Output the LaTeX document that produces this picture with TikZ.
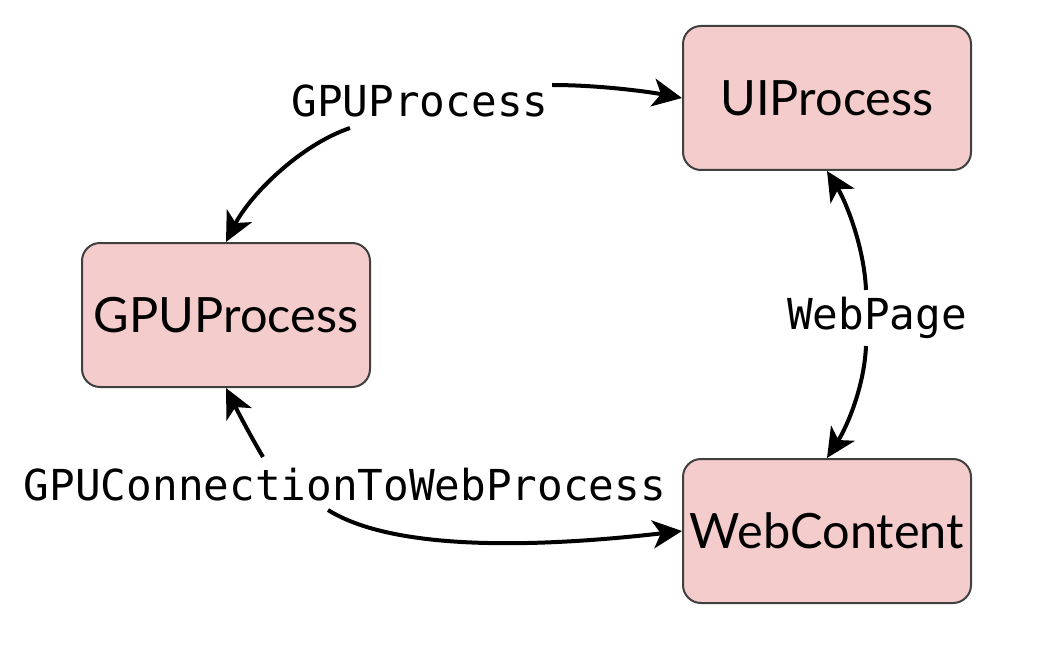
\documentclass[tikz,border=0pt]{standalone}
\usepackage{fontspec}
\setmainfont{Lato}
\newfontfamily\labelfont{DejaVu Sans Mono}
\usetikzlibrary{arrows.meta}
\definecolor{boxpink}{HTML}{F4CCCC}
\definecolor{boxline}{HTML}{404040}
\begin{document}
\begin{tikzpicture}[x=0.75pt,y=-0.75pt,
  procbox/.style={rectangle, rounded corners=13.5pt, minimum width=216pt, minimum height=108pt,
    inner sep=0pt, fill=boxpink, draw=boxline, line width=1.5pt,
    font=\fontsize{36.5}{40}\selectfont},
  lbl/.style={inner sep=0pt, font=\labelfont\fontsize{32}{36}\selectfont},
  conn/.style={line width=3pt, -{Stealth[length=22pt,width=21pt,inset=6pt]}}]
\fill[white] (0,0) rectangle (1048,652);
\node[procbox] (ui) at (827,98) {UIProcess};
\node[procbox] (gpu) at (226,315) {GPUProcess};
\node[procbox] (web) at (827,531) {WebContent};
\node[lbl] (l1) at (420,101) {GPUProcess};
\node[lbl] (l2) at (877,318) {WebPage};
\node[lbl] (l3) at (345,485) {GPUConnectionToWebProcess};
\coordinate (a1) at (552,85);
\coordinate (b1) at (350,128);
\coordinate (a2) at (866,290);
\coordinate (b2) at (866,346);
\coordinate (a3) at (263,457);
\coordinate (b3) at (328,510);
\draw[conn] (a1) .. controls (600,85) and (650,92) .. (ui.west);
\draw[conn] (b1) .. controls (300,145) and (250,195) .. (gpu.north);
\draw[conn] (a2) .. controls (864,245) and (845,200) .. (ui.south);
\draw[conn] (b2) .. controls (864,390) and (845,430) .. (web.north);
\draw[conn] (a3) .. controls (250,435) and (238,412) .. (gpu.south);
\draw[conn] (b3) .. controls (400,555) and (560,545) .. (web.west);
\end{tikzpicture}
\end{document}
